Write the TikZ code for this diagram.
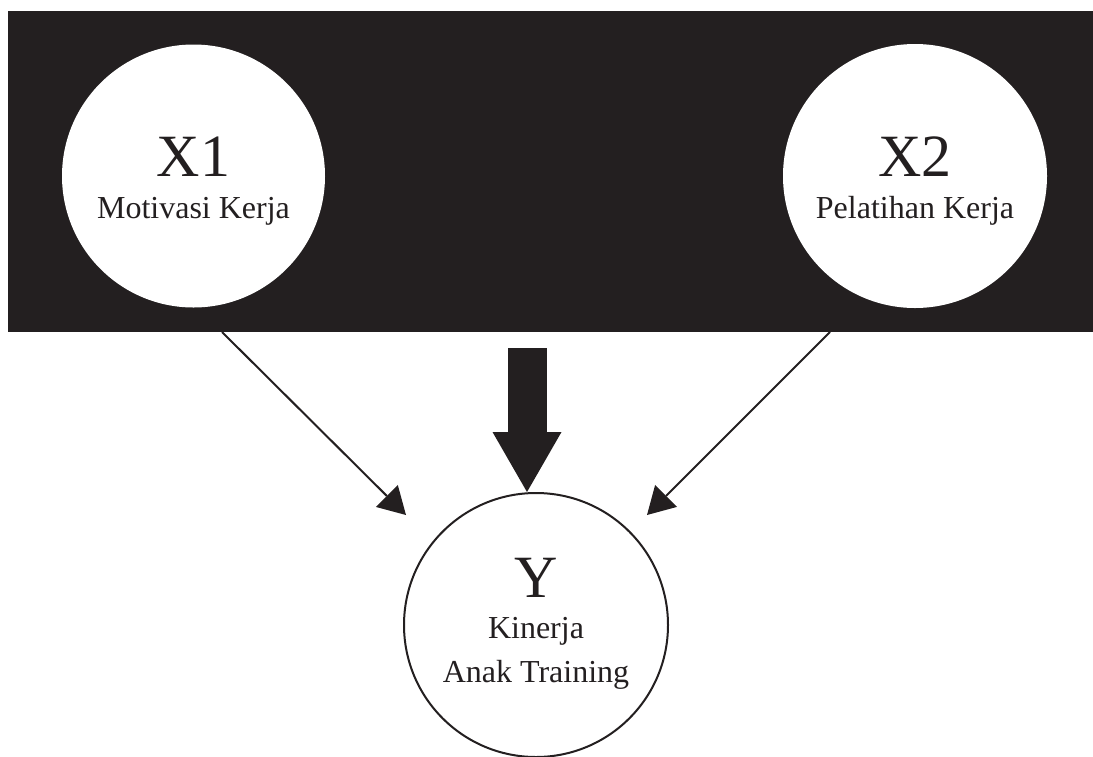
\documentclass[tikz,border=0pt]{standalone}
\usepackage{fontspec}
\setmainfont{Liberation Serif}
\usetikzlibrary{arrows.meta}
\definecolor{ink}{HTML}{231F20}
\begin{document}
\begin{tikzpicture}[x=1pt,y=-1pt,
  bubble/.style={circle,fill=white,inner sep=0pt,minimum size=#1},
  bigtxt/.style={anchor=base,text=ink,font=\fontsize{60}{60}\selectfont,inner sep=0pt},
  smalltxt/.style={anchor=base,text=ink,font=\fontsize{32}{34}\selectfont,inner sep=0pt},
  thinarrow/.style={draw=ink,line width=2pt,-{Triangle[width=31pt,length=27pt,line width=0pt]}},
  fatarrow/.style={draw=ink,line width=39pt,-{Triangle[width=69pt,length=60pt,line width=0pt]}}
]
\useasboundingbox (0,0) rectangle (1093,756);
\fill[ink] (8,11) rectangle (1093,332);
\node[bubble=263pt] (x1) at (193.5,176) {};
\node[bubble=264pt] (x2) at (915,176) {};
\node[bubble=264pt,draw=ink,line width=2pt] (y) at (536,625) {};
\node[bigtxt] (x1t) at (x1.center) {X1};
\node[smalltxt] (x1s) at ([yshift=-42pt]x1.center) {Motivasi Kerja};
\node[bigtxt] (x2t) at (x2.center) {X2};
\node[smalltxt] (x2s) at ([yshift=-42pt]x2.center) {Pelatihan Kerja};
\node[bigtxt] (yt) at ([yshift=28pt]y.center) {Y};
\node[smalltxt] (ys1) at ([yshift=-13pt]y.center) {Kinerja};
\node[smalltxt] (ys2) at ([yshift=-57pt]y.center) {Anak Training};
\coordinate (a1) at (222,332);
\coordinate (a1e) at (406,515);
\coordinate (a2) at (830,332);
\coordinate (a2e) at (647,515);
\coordinate (b1) at (527,348);
\coordinate (b1e) at (527,492);
\draw[thinarrow] (a1) -- (a1e);
\draw[thinarrow] (a2) -- (a2e);
\draw[fatarrow] (b1) -- (b1e);
\end{tikzpicture}
\end{document}
